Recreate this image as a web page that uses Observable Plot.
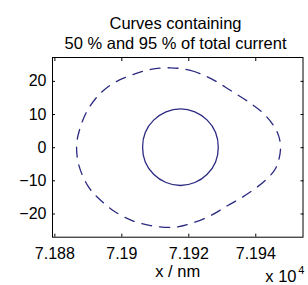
<!DOCTYPE html>
<html>
<head>
<meta charset="utf-8">
<script src="https://cdn.jsdelivr.net/npm/d3@7"></script>
<script src="https://cdn.jsdelivr.net/npm/@observablehq/plot@0.6"></script>
<style>
  html, body { margin: 0; padding: 0; background: #fff; }
  svg { display: block; }
</style>
</head>
<body>
<div id="chart"></div>
<script>
// ---- data ----
const titleLines = ["Curves containing", "50 % and 95 % of total current"];
const xLabel = "x / nm";
const xExpBase = "x 10";
const xExpPower = "4";

const xTicks = [71880, 71900, 71920, 71940];
const xTickLabels = ["7.188", "7.19", "7.192", "7.194"];
const yTicks = [-20, -10, 0, 10, 20];
const yTickLabels = ["\u221220", "\u221210", "0", "10", "20"];

// 95 % curve (dashed)
const outerX = [71914.5, 71920.5, 71926.5, 71932.4, 71938.4, 71942.9, 71946.4, 71947.4, 71945.9, 71943.4,
                71940.4, 71935.9, 71931.5, 71926.5, 71920.5, 71915.5, 71908.6, 71903.1, 71897.5, 71893.1,
                71890.1, 71887.2, 71886.5, 71887.5, 71889.7, 71893.6, 71898.1, 71903.5, 71908.6];
const outerY = [24.1, 23.3, 20.9, 17.3, 13.4, 9.7, 4.7, -0.2, -6.3, -9.3,
                -11.9, -15.0, -17.5, -20.5, -22.9, -24.0, -23.5, -22.0, -19.0, -15.3,
                -11.9, -5.4, 0.7, 5.8, 11.2, 16.4, 19.8, 22.1, 23.6];

// 50 % curve (solid)
const innerX = [71928.8, 71928.0, 71925.5, 71921.8, 71917.5, 71913.2, 71909.5, 71907.0,
                71906.2, 71907.0, 71909.5, 71913.2, 71917.5, 71921.8, 71925.5, 71928.0];
const innerY = [0.15, 4.6, 8.3, 10.8, 11.7, 10.8, 8.3, 4.6,
                0.15, -4.3, -8.0, -10.5, -11.4, -10.5, -8.0, -4.3];

const outer = outerX.map((x, i) => ({x, y: outerY[i]}));
const inner = innerX.map((x, i) => ({x, y: innerY[i]}));

const lineColor = "#2b2a80";
const font = "'Liberation Sans', Arial, Helvetica, sans-serif";

const chart = Plot.plot({
  width: 308,
  height: 285,
  marginLeft: 52,
  marginRight: 5.5,
  marginTop: 57,
  marginBottom: 48.3,
  style: {fontFamily: font, color: "black", background: "white", overflow: "visible"},
  x: {domain: [71879.3, 71954.1], label: null, axis: null},
  y: {domain: [-27.0, 27.2], label: null, axis: null},
  marks: [
    Plot.line(outer, {x: "x", y: "y", curve: "catmull-rom-closed", stroke: lineColor, strokeWidth: 1.3, strokeDasharray: "10,8"}),
    Plot.line(inner, {x: "x", y: "y", curve: "catmull-rom-closed", stroke: lineColor, strokeWidth: 1.3}),
    Plot.frame({stroke: "black", strokeWidth: 1}),
    Plot.axisX({anchor: "bottom", ticks: xTicks, tickSize: -3, tickPadding: 13.2, fontSize: 16,
      tickFormat: d => xTickLabels[xTicks.indexOf(d)], label: null}),
    Plot.axisX({anchor: "top", ticks: xTicks, tickSize: -3, tickFormat: () => "", label: null}),
    Plot.axisY({anchor: "left", ticks: yTicks, tickSize: -3, tickPadding: 9, fontSize: 16,
      tickFormat: d => yTickLabels[yTicks.indexOf(d)], label: null}),
    Plot.axisY({anchor: "right", ticks: yTicks, tickSize: -3, tickFormat: () => "", label: null}),
    Plot.text([titleLines.join("\n")], {frameAnchor: "top", lineAnchor: "bottom", dx: -2.25, dy: -8.7,
      fontSize: 16.5, lineHeight: 1.212, fill: "black"}),
    Plot.text([xLabel], {frameAnchor: "bottom", lineAnchor: "bottom", dy: 40, fontSize: 16.5, fill: "black"}),
    Plot.text([xExpBase], {frameAnchor: "bottom-right", lineAnchor: "bottom", textAnchor: "end", dx: -6.5, dy: 44.3, fontSize: 16.5, fill: "black"}),
    Plot.text([xExpPower], {frameAnchor: "bottom-right", lineAnchor: "bottom", textAnchor: "start", dx: -4.8, dy: 36.3, fontSize: 11, fill: "black"})
  ]
});
document.getElementById("chart").appendChild(chart);
</script>
</body>
</html>
